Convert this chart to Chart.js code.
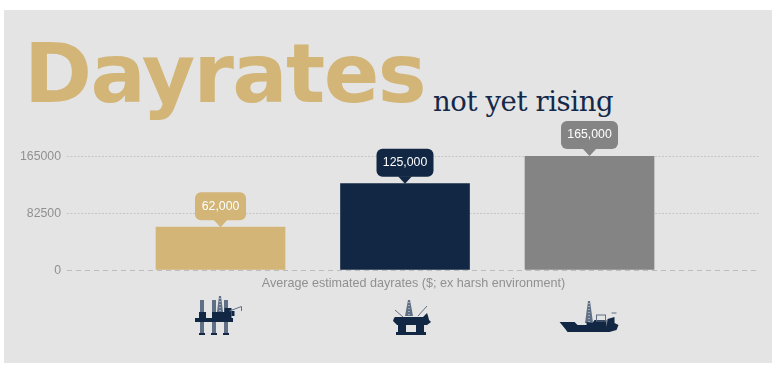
<!DOCTYPE html>
<html>
<head>
<meta charset="utf-8">
<script src="https://cdn.jsdelivr.net/npm/chart.js@4"></script>
<style>
  html, body { margin: 0; background: #fff; overflow: hidden; }
  #panel { position: absolute; left: 4px; top: 10px; width: 768px; height: 353px; background: #e4e4e4; }
  #chart { position: absolute; left: 0; top: 0; }
  .head { position: absolute; white-space: nowrap; line-height: 1; }
  #t1 { left: 24px; top: 26px; font: 700 82px "DejaVu Sans", sans-serif; color: #d2b577; letter-spacing: -1.6px; }
  #t2 { left: 433px; top: 85px; font: 400 27.5px "DejaVu Serif", serif; color: #14294a; letter-spacing: -.4px; }
</style>
</head>
<body>
<div id="panel"></div>
<div class="head" id="t1">Dayrates</div>
<div class="head" id="t2">not yet rising</div>
<canvas id="chart" width="777" height="370"></canvas>
<script>
/* ====== Dayrates by rig type ====== */
const positions = [1, 2, 3];
const dayrates  = [62000, 125000, 165000];
const rateLabels = ["62,000", "125,000", "165,000"];
const barColors = ["#d2b577", "#122743", "#848484"];
const yTicks = [0, 82500, 165000];
const xTitle = "Average estimated dayrates ($; ex harsh environment)";

const NAVY = "#122743", HATCH = "#5f6f85";

/* ---------- callouts above the bars ---------- */
const callouts = {
  id: "callouts",
  afterDatasetsDraw(chart) {
    const { ctx } = chart;
    chart.getDatasetMeta(0).data.forEach((bar, i) => {
      const w = i === 0 ? 51 : 57, h = 28;
      const x = bar.x, top = bar.y - 35;
      ctx.save();
      ctx.fillStyle = barColors[i];
      ctx.beginPath();
      ctx.roundRect(x - w / 2, top, w, h, 6);
      ctx.fill();
      ctx.beginPath();
      ctx.moveTo(x - 7, top + h - 0.5);
      ctx.lineTo(x + 7, top + h - 0.5);
      ctx.lineTo(x, top + h + 7);
      ctx.closePath();
      ctx.fill();
      ctx.fillStyle = "#fff";
      ctx.font = "12.3px 'Liberation Sans', Arial, sans-serif";
      ctx.textAlign = "center";
      ctx.textBaseline = "middle";
      ctx.fillText(rateLabels[i], x, top + h / 2);
      ctx.restore();
    });
  }
};

/* ---------- rig icons under the axis ---------- */
function legLine(ctx, x1, y1, x2, y2, width) {
  ctx.save();
  ctx.strokeStyle = HATCH;
  ctx.lineWidth = width;
  ctx.beginPath(); ctx.moveTo(x1, y1); ctx.lineTo(x2, y2); ctx.stroke();
  ctx.restore();
}
function thinLine(ctx, x1, y1, x2, y2) {
  ctx.save();
  ctx.strokeStyle = HATCH;
  ctx.lineWidth = 1;
  ctx.beginPath(); ctx.moveTo(x1, y1); ctx.lineTo(x2, y2); ctx.stroke();
  ctx.restore();
}
function tower(ctx, cx, top, base, halfW) {
  ctx.save();
  ctx.fillStyle = HATCH;
  ctx.beginPath();
  ctx.moveTo(cx - 1, top); ctx.lineTo(cx + 1, top);
  ctx.lineTo(cx + halfW, base); ctx.lineTo(cx - halfW, base);
  ctx.closePath(); ctx.fill();
  ctx.strokeStyle = "#e4e4e4";
  ctx.lineWidth = 1;
  ctx.setLineDash([1, 2]);
  ctx.beginPath(); ctx.moveTo(cx, top + 2); ctx.lineTo(cx, base); ctx.stroke();
  ctx.restore();
}
function jackup(ctx) {
  [-18.5, -6.5, 5.5].forEach(dx => {
    legLine(ctx, dx, 300, dx, 333, 4);
    ctx.fillRect(dx - 3, 333, 6, 2);
  });
  tower(ctx, -0.5, 296, 312, 3);
  ctx.fillRect(-25.5, 318, 38, 4);
  ctx.fillRect(-21.5, 312, 7, 7);
  ctx.fillRect(-8.5, 312, 13, 7);
  ctx.fillRect(4, 308, 7, 11);
  ctx.fillRect(11, 311, 3, 5);
  thinLine(ctx, 9, 311, 21, 306.5);
  thinLine(ctx, 21, 306.5, 21, 311);
}
function semisub(ctx) {
  tower(ctx, 4, 300, 316, 4);
  thinLine(ctx, -10, 310, -2, 317);
  thinLine(ctx, 22, 306, 13, 316);
  ctx.beginPath();
  ctx.moveTo(-10, 317); ctx.lineTo(18, 317); ctx.lineTo(22, 313); ctx.lineTo(23, 316);
  ctx.lineTo(24, 320); ctx.lineTo(26, 322); ctx.lineTo(22, 325); ctx.lineTo(-8, 325);
  ctx.lineTo(-12, 321); ctx.lineTo(-11, 318);
  ctx.closePath(); ctx.fill();
  ctx.fillRect(-7, 324, 8, 9);
  ctx.fillRect(11, 324, 8, 9);
  ctx.fillRect(-9, 332, 30, 3);
}
function drillship(ctx) {
  tower(ctx, -0.5, 301, 323, 4);
  ctx.beginPath();
  ctx.moveTo(-30, 322); ctx.lineTo(-15, 322); ctx.lineTo(-12, 325); ctx.lineTo(-3, 325);
  ctx.lineTo(-3, 322); ctx.lineTo(3, 323); ctx.lineTo(5, 320); ctx.lineTo(17, 320);
  ctx.lineTo(17, 327); ctx.lineTo(18, 319); ctx.lineTo(25, 317); ctx.lineTo(25, 323);
  ctx.lineTo(29, 325); ctx.lineTo(27, 330); ctx.lineTo(20, 332); ctx.lineTo(-22, 332);
  ctx.lineTo(-25, 328);
  ctx.closePath(); ctx.fill();
  ctx.save();
  ctx.strokeStyle = HATCH;
  ctx.lineWidth = 1;
  ctx.strokeRect(7, 315, 9, 6);
  ctx.restore();
  thinLine(ctx, 22, 313, 27, 313);
}
const rigIcons = [jackup, semisub, drillship];

const icons = {
  id: "icons",
  afterDraw(chart) {
    const { ctx } = chart;
    chart.getDatasetMeta(0).data.forEach((bar, i) => {
      ctx.save();
      ctx.translate(bar.x, 0);
      ctx.fillStyle = NAVY;
      rigIcons[i](ctx);
      ctx.restore();
    });
  }
};

new Chart(document.getElementById("chart"), {
  type: "bar",
  data: {
    datasets: [{
      data: positions.map((p, i) => ({ x: p, y: dayrates[i] })),
      backgroundColor: barColors,
      barThickness: 129,
      borderWidth: 0
    }]
  },
  options: {
    responsive: false,
    animation: false,
    layout: { padding: { left: 0, right: 17, top: 156, bottom: 77 } },
    plugins: { legend: { display: false }, tooltip: { enabled: false } },
    scales: {
      x: {
        type: "linear",
        offset: false,
        min: 0.168,
        max: 3.924,
        border: { display: false },
        grid: { display: false },
        ticks: { display: false },
        afterFit: s => { s.height = 23; },
        title: {
          display: true,
          text: xTitle,
          color: "#909090",
          font: { family: "'Liberation Sans', Arial, sans-serif", size: 12.6 },
          padding: { top: 0, bottom: 2 }
        }
      },
      y: {
        min: 0,
        max: 165000,
        afterBuildTicks: s => { s.ticks = yTicks.map(v => ({ value: v })); },
        afterFit: s => { s.width = 67; },
        border: {
          display: false,
          dash: c => c.tick && c.tick.value === 0 ? [5, 4] : [2, 1.5]
        },
        grid: {
          drawTicks: false,
          color: c => c.tick.value === 0 ? "#bcbcbc" : "#c6c6c6",
          lineWidth: 1
        },
        ticks: {
          padding: 6,
          labelOffset: 1,
          color: "#909090",
          callback: v => String(v),
          font: { family: "'Liberation Sans', Arial, sans-serif", size: 12.3 }
        }
      }
    }
  },
  plugins: [callouts, icons]
});
</script>
</body>
</html>
